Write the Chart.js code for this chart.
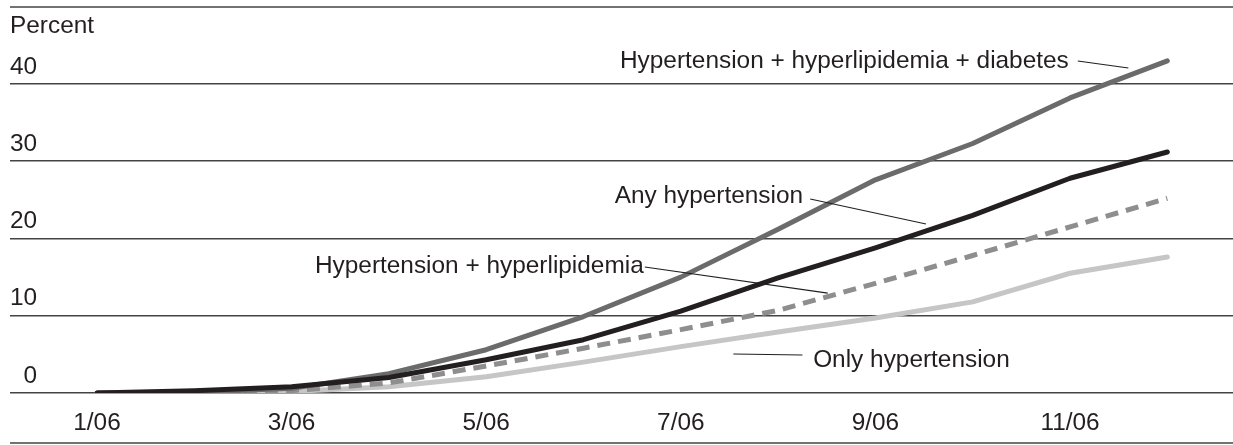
<!DOCTYPE html>
<html>
<head>
<meta charset="utf-8">
<script src="https://cdn.jsdelivr.net/npm/chart.js@4"></script>
<style>
  html, body { margin: 0; padding: 0; background: #fff; }
  #wrap { width: 1233px; height: 445px; }
</style>
</head>
<body>
<div id="wrap"><canvas id="chart"></canvas></div>
<script>
// months on the x axis (index 0 = 1/06)
const months = ['1/06', '2/06', '3/06', '4/06', '5/06', '6/06', '7/06', '8/06', '9/06', '10/06', '11/06', '12/06'];
const xTicks = [0, 2, 4, 6, 8, 10];
const yTicks = [0, 10, 20, 30, 40];

// percent values
const diabetes = [0, 0.1, 0.6, 2.5, 5.6, 9.9, 15.0, 21.2, 27.6, 32.3, 38.2, 43.0];
const anyHyp = [0, 0.3, 0.8, 2.0, 4.3, 6.9, 10.6, 14.9, 18.8, 23.0, 27.8, 31.2];
const hypLipid = [0, 0.1, 0.3, 1.3, 3.5, 5.8, 8.2, 10.7, 14.2, 17.8, 21.5, 25.2];
const onlyHyp = [0, 0, 0.2, 0.8, 2.1, 4.0, 6.0, 7.9, 9.7, 11.8, 15.5, 17.6];

const FONT = '"Liberation Sans", Arial, sans-serif';
const FSIZE = 24.4;
const INK = '#231f20';

function pts(arr) {
  return arr.map((v, i) => ({ x: i, y: v }));
}

// labels + leader lines, positioned in data units
const notes = [
  { text: 'Hypertension + hyperlipidemia + diabetes', at: [5.375, 42.07], line: [[10.08, 42.98], [10.60, 42.07]] },
  { text: 'Any hypertension', at: [5.32, 24.6], line: [[7.33, 25.11], [8.52, 21.88]] },
  { text: 'Hypertension + hyperlipidemia', at: [2.24, 15.53], line: [[5.63, 16.31], [7.51, 12.94]] },
  { text: 'Only hypertension', at: [7.36, 3.37], line: [[6.54, 5.05], [7.25, 4.92]] }
];

const decor = {
  id: 'decor',
  afterDraw(chart) {
    const ctx = chart.ctx;
    const xs = chart.scales.x, ys = chart.scales.y;
    ctx.save();
    // top and bottom rules
    ctx.strokeStyle = '#444';
    ctx.lineWidth = 1.6;
    ctx.beginPath();
    ctx.moveTo(10, 7); ctx.lineTo(1233, 7);
    ctx.moveTo(10, 443); ctx.lineTo(1233, 443);
    ctx.stroke();

    ctx.fillStyle = INK;
    ctx.font = FSIZE + 'px ' + FONT;
    ctx.textAlign = 'left';
    ctx.textBaseline = 'alphabetic';
    ctx.fillText('Percent', 10, 33);

    ctx.strokeStyle = INK;
    ctx.lineWidth = 1.2;
    notes.forEach(n => {
      ctx.fillText(n.text, xs.getPixelForValue(n.at[0]), ys.getPixelForValue(n.at[1]));
      ctx.beginPath();
      ctx.moveTo(xs.getPixelForValue(n.line[0][0]), ys.getPixelForValue(n.line[0][1]));
      ctx.lineTo(xs.getPixelForValue(n.line[1][0]), ys.getPixelForValue(n.line[1][1]));
      ctx.stroke();
    });
    ctx.restore();
  }
};

const common = { pointRadius: 0, borderWidth: 5, tension: 0, fill: false, borderJoinStyle: 'round' };

new Chart(document.getElementById('chart'), {
  type: 'line',
  data: {
    datasets: [
      Object.assign({ label: 'Any hypertension', data: pts(anyHyp), borderColor: INK, borderCapStyle: 'round' }, common),
      Object.assign({ label: 'Hypertension + hyperlipidemia + diabetes', data: pts(diabetes), borderColor: '#6b6b6b', borderCapStyle: 'round' }, common),
      Object.assign({ label: 'Hypertension + hyperlipidemia', data: pts(hypLipid), borderColor: '#8e8e8e', borderDash: [13, 8] }, common),
      Object.assign({ label: 'Only hypertension', data: pts(onlyHyp), borderColor: '#c6c6c6', borderCapStyle: 'round' }, common)
    ]
  },
  options: {
    responsive: true,
    maintainAspectRatio: false,
    animation: false,
    layout: { padding: { left: 10, right: 0, top: 37.65, bottom: 0 } },
    plugins: { legend: { display: false }, tooltip: { enabled: false } },
    scales: {
      x: {
        type: 'linear',
        min: -0.894,
        max: 11.675,
        afterBuildTicks: s => { s.ticks = xTicks.map(v => ({ value: v })); },
        afterFit: s => { s.height = 52; },
        grid: { display: false, drawTicks: false },
        border: { display: false },
        ticks: {
          padding: 16,
          color: INK,
          font: { family: FONT, size: FSIZE },
          maxRotation: 0,
          callback: v => months[v]
        }
      },
      y: {
        min: 0,
        max: 46,
        afterBuildTicks: s => { s.ticks = yTicks.map(v => ({ value: v })); },
        grid: { color: '#444', lineWidth: 1.6, drawTicks: false },
        border: { display: false },
        ticks: {
          mirror: true,
          crossAlign: 'far',
          padding: 0,
          labelOffset: -17,
          color: INK,
          font: { family: FONT, size: FSIZE }
        }
      }
    }
  },
  plugins: [decor]
});
</script>
</body>
</html>
